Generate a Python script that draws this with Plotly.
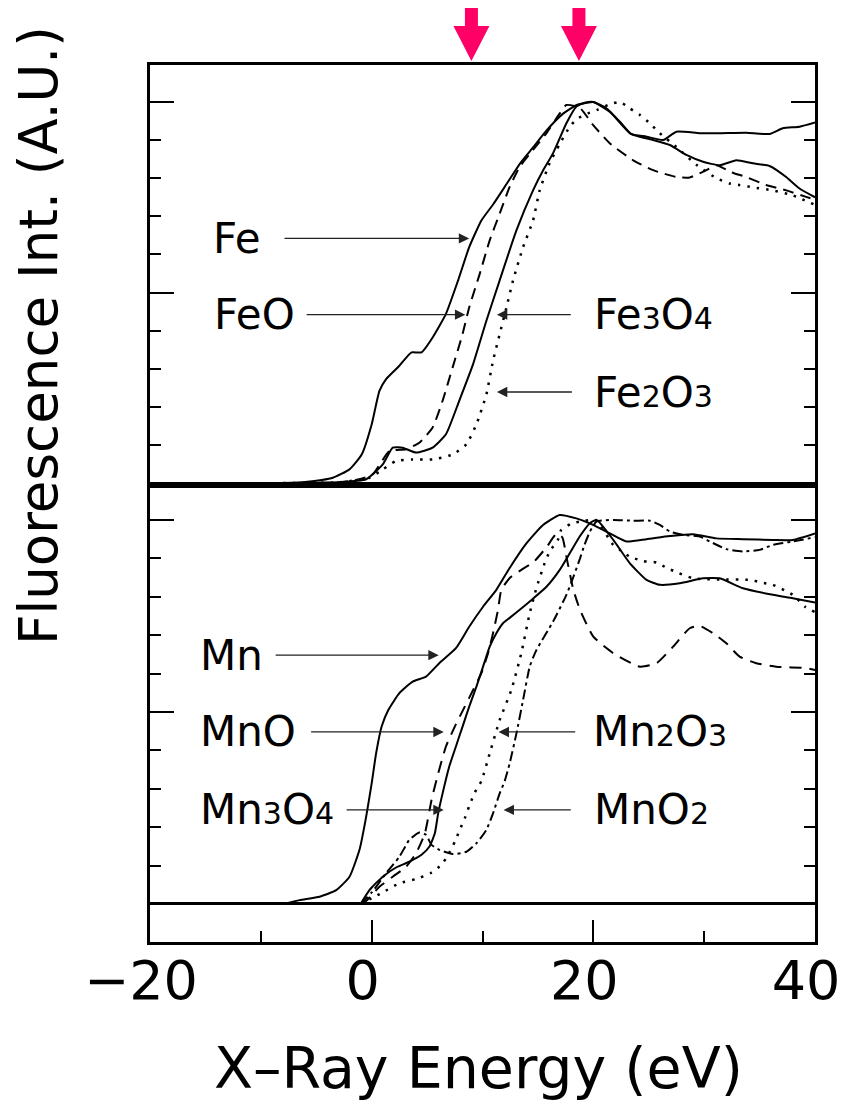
import plotly.graph_objects as go

# ---------------- data ----------------
# Top panel: Fe K-edge
fe_e = [-8, -6, -4.5, -3.5, -2, -0.9, 0, 0.7, 1.3, 2.5, 3.6, 4.5, 5.5, 6.7, 7.8, 8.8, 9.9, 11, 12.2, 13.4,
        14.6, 15.8, 17.3, 18.5, 19.4, 20.0, 21.2, 22.4, 23.4, 24.8, 26.3, 27.5, 29.6, 31.4, 33.8, 35.9, 37.1, 38.6, 40]
fe_v = [0, 0.003, 0.008, 0.014, 0.036, 0.075, 0.154, 0.242, 0.273, 0.308, 0.343, 0.343, 0.382, 0.444, 0.532,
        0.619, 0.689, 0.733, 0.786, 0.839, 0.882, 0.926, 0.97, 0.992, 0.998, 1.0, 0.983, 0.948, 0.916, 0.909,
        0.9, 0.922, 0.918, 0.918, 0.919, 0.916, 0.931, 0.935, 0.946]

feo_e = [-8, -3, -1.1, 0.1, 1.6, 3.1, 4.3, 5.5, 6.4, 7.3, 8.2, 8.8, 9.75, 10.65, 11.55, 12.45, 13.36, 14.56,
         15.77, 16.97, 17.57, 18.77, 19.97, 21.5, 23.6, 25.4, 27.5, 28.7, 30.2, 31.1, 32.5, 33.8, 35.6, 37.4, 39.2, 40]
feo_v = [0, 0.002, 0.01, 0.023, 0.084, 0.089, 0.106, 0.146, 0.216, 0.303, 0.391, 0.461, 0.549, 0.637, 0.707,
         0.777, 0.83, 0.874, 0.918, 0.97, 0.992, 0.985, 0.94, 0.891, 0.847, 0.821, 0.803, 0.802, 0.821, 0.834,
         0.815, 0.803, 0.782, 0.768, 0.751, 0.744]

fe3o4_e = [-8, -3, -0.5, 1.0, 1.9, 2.8, 4.0, 5.5, 6.7, 7.9, 9.15, 10.35, 11.55, 13.06, 14.56, 15.46, 16.36,
           17.57, 18.47, 19.22, 20.0, 21.5, 23.4, 25.4, 26.9, 28.4, 29.9, 31.4, 32.9, 34.4, 35.9, 37.4, 38.6, 40]
fe3o4_v = [0, 0.002, 0.01, 0.049, 0.093, 0.093, 0.08, 0.093, 0.128, 0.216, 0.312, 0.426, 0.532, 0.663, 0.768,
           0.82, 0.865, 0.944, 0.988, 0.998, 1.0, 0.974, 0.916, 0.9, 0.887, 0.861, 0.843, 0.834, 0.847, 0.839,
           0.832, 0.803, 0.773, 0.75]

fe2o3_e = [-8, -3, -0.2, 1.0, 2.2, 3.7, 5.5, 7.3, 8.55, 9.45, 10.35, 10.95, 11.55, 12.16, 12.76, 13.66, 14.56,
           15.16, 16.06, 16.97, 17.87, 18.5, 19.5, 20.4, 21.4, 22.4, 23.3, 24.2, 25.1, 26.0, 27.65, 29.3, 31.1,
           32.3, 33.2, 34.4, 36.2, 38.0, 40]
fe2o3_v = [0, 0.002, 0.014, 0.036, 0.058, 0.062, 0.062, 0.075, 0.102, 0.154, 0.233, 0.321, 0.391, 0.461, 0.532,
           0.619, 0.689, 0.768, 0.84, 0.89, 0.935, 0.955, 0.97, 0.98, 0.993, 1.0, 0.983, 0.966, 0.944, 0.918,
           0.878, 0.835, 0.8, 0.786, 0.782, 0.776, 0.768, 0.755, 0.73]

# Bottom panel: Mn K-edge
mn_e = [-8, -6.5, -4.7, -3.2, -2.0, -1.1, -0.5, 0, 0.4, 0.9, 1.5, 2.5, 3.7, 4.9, 6.1, 7.6, 8.8, 10.05, 11.25,
        12.45, 13.96, 15.46, 16.97, 18.47, 19.67, 21.5, 23.0, 24.8, 26.9, 29.0, 31.1, 33.5, 36.2, 38.0, 40]
mn_v = [0, 0.01, 0.019, 0.036, 0.071, 0.141, 0.227, 0.314, 0.392, 0.462, 0.505, 0.549, 0.579, 0.592, 0.627,
        0.666, 0.722, 0.774, 0.818, 0.875, 0.939, 0.987, 1.013, 1.004, 0.991, 0.965, 0.944, 0.95, 0.958, 0.963,
        0.952, 0.95, 0.948, 0.948, 0.965]

mno_e = [-1.0, -0.5, 0.7, 1.9, 3.1, 4.0, 4.8, 5.4, 6.0, 6.7, 7.5, 8.4, 9.15, 9.9, 10.5, 10.95, 11.4, 11.7, 12.5,
         13.5, 14.6, 15.8, 16.7, 17.2, 17.6, 18.2, 18.8, 20.0, 21.8, 24.2, 25.7, 27.2, 28.7, 29.6, 30.8, 32.0,
         33.2, 34.7, 36.5, 39.2, 40]
mno_v = [0, 0.008, 0.045, 0.071, 0.097, 0.132, 0.184, 0.271, 0.34, 0.41, 0.462, 0.514, 0.557, 0.601, 0.653,
         0.705, 0.766, 0.818, 0.85, 0.87, 0.89, 0.93, 0.965, 0.955, 0.9, 0.818, 0.766, 0.696, 0.653, 0.618,
         0.627, 0.67, 0.718, 0.724, 0.705, 0.679, 0.644, 0.627, 0.618, 0.614, 0.609]

mn3o4_e = [-1.0, -0.2, 1.0, 2.2, 3.4, 4.5, 5.2, 5.7, 6.0, 6.4, 7.0, 7.6, 8.2, 8.8, 9.45, 10.05, 10.65, 11.25,
           11.85, 12.45, 13.36, 14.56, 15.77, 16.97, 17.87, 18.77, 19.67, 20.3, 21.8, 23.3, 24.8, 26.0, 27.8,
           29.9, 31.4, 33.5, 36.2, 38.0, 40]
mn3o4_v = [0, 0.036, 0.071, 0.095, 0.11, 0.128, 0.149, 0.184, 0.236, 0.288, 0.358, 0.41, 0.462, 0.514, 0.566,
           0.618, 0.67, 0.705, 0.731, 0.745, 0.766, 0.795, 0.826, 0.87, 0.913, 0.957, 0.991, 1.0, 0.948, 0.887,
           0.844, 0.831, 0.835, 0.848, 0.848, 0.822, 0.805, 0.796, 0.785]

mn2o3_e = [-1.0, 0.0, 1.0, 2.5, 4.0, 5.3, 6.3, 6.9, 7.5, 7.95, 8.4, 8.8, 9.3, 9.9, 10.65, 11.55, 12.6, 13.5,
           14.26, 14.86, 15.6, 16.06, 16.8, 17.1, 18.0, 19.2, 20.2, 21.8, 22.4, 23.3, 24.5, 25.7, 26.7, 27.6,
           29.0, 31.5, 34.1, 35.2, 36.2, 38.0, 39.1, 40]
mn2o3_v = [0, 0.015, 0.03, 0.054, 0.065, 0.08, 0.102, 0.128, 0.162, 0.193, 0.223, 0.255, 0.29, 0.32, 0.392,
           0.479, 0.557, 0.653, 0.757, 0.822, 0.887, 0.918, 0.948, 0.974, 0.99, 0.998, 1.0, 0.935, 0.922, 0.904,
           0.893, 0.889, 0.874, 0.863, 0.848, 0.845, 0.844, 0.837, 0.831, 0.805, 0.774, 0.76]

mno2_e = [-1.0, 0.0, 1.3, 2.5, 3.4, 4.3, 4.9, 5.4, 6.1, 7.3, 8.55, 9.45, 10.35, 10.95, 11.55, 12.0, 12.45,
          13.06, 13.66, 14.26, 14.86, 16.36, 17.57, 18.2, 18.8, 19.2, 19.7, 20.3, 21.8, 23.6, 25.1, 26.0, 26.9,
          28.1, 29.6, 30.5, 32.0, 33.5, 35.0, 36.2, 38.0, 40]
mno2_v = [0, 0.03, 0.08, 0.123, 0.167, 0.186, 0.18, 0.154, 0.141, 0.13, 0.136, 0.158, 0.193, 0.236, 0.288,
          0.32, 0.366, 0.444, 0.531, 0.618, 0.661, 0.735, 0.805, 0.852, 0.9, 0.935, 0.97, 0.996, 1.0, 0.998,
          0.998, 0.987, 0.97, 0.961, 0.957, 0.944, 0.924, 0.918, 0.922, 0.935, 0.944, 0.955]

# x ticks
x_tickvals = [-20, 0, 20, 40]
x_ticktext = ["\u221220", "0", "20", "40"]

# marked energies (pink arrows)
marker_energies = [9.0, 18.7]

# labels: (text, text_x, text_y, tail_x, tip_x, tip_y)
SUB = "<span style='font-size:30px'>{}</span>"
top_labels = [
    ("Fe", -14.5, 0.642, -8.0, 8.8, 0.642),
    ("FeO", -14.4, 0.442, -6.0, 8.45, 0.442),
    ("Fe" + SUB.format("3") + "O" + SUB.format("4"), 19.9, 0.442, 18.1, 11.3, 0.442),
    ("Fe" + SUB.format("2") + "O" + SUB.format("3"), 19.9, 0.239, 18.2, 11.3, 0.239),
]
bottom_labels = [
    ("Mn", -15.7, 0.648, -8.8, 6.05, 0.648),
    ("MnO", -15.7, 0.448, -5.6, 6.5, 0.448),
    ("Mn" + SUB.format("3") + "O" + SUB.format("4"), -15.7, 0.245, -2.4, 6.5, 0.245),
    ("Mn" + SUB.format("2") + "O" + SUB.format("3"), 19.8, 0.448, 18.5, 11.45, 0.448),
    ("MnO" + SUB.format("2"), 19.9, 0.245, 18.1, 11.9, 0.245),
]

# ---------------- figure ----------------
FONT = "DejaVu Sans"
fig = go.Figure()

def add_curve(e, v, dash, xa, ya, width=2.0):
    fig.add_trace(go.Scatter(x=e, y=v, mode="lines", xaxis=xa, yaxis=ya,
                             line=dict(color="black", width=width, dash=dash, shape="spline", smoothing=0.5),
                             showlegend=False, hoverinfo="skip"))

add_curve(fe_e, fe_v, "solid", "x", "y")
add_curve(feo_e, feo_v, "11px,7px", "x", "y")
add_curve(fe3o4_e, fe3o4_v, "solid", "x", "y")
add_curve(fe2o3_e, fe2o3_v, "2.5px,7px", "x", "y", width=2.5)

add_curve(mn_e, mn_v, "solid", "x2", "y2")
add_curve(mno_e, mno_v, "12px,8px", "x2", "y2")
add_curve(mn3o4_e, mn3o4_v, "solid", "x2", "y2")
add_curve(mn2o3_e, mn2o3_v, "2.5px,7px", "x2", "y2", width=2.5)
add_curve(mno2_e, mno2_v, "10px,4px,3px,4px", "x2", "y2")

annotations = []
for labels, xr, yr in ((top_labels, "x", "y"), (bottom_labels, "x2", "y2")):
    for text, tx, ty, ax, px, py in labels:
        annotations.append(dict(text=text, x=tx, y=ty, xref=xr, yref=yr, xanchor="left", yanchor="middle",
                                showarrow=False, font=dict(family=FONT, size=42, color="black")))
        annotations.append(dict(text="", x=px, y=py, xref=xr, yref=yr, ax=ax, ay=py, axref=xr, ayref=yr,
                                showarrow=True, arrowhead=2, arrowsize=1.6, arrowwidth=1.3,
                                arrowcolor="#222222"))

# page geometry (the page body adds an 8px offset)
plot_l, plot_w, plot_t, plot_h = 150, 665, 65, 877

annotations.append(dict(text="Fluorescence Int. (A.U.)",
                        x=(38 - plot_l) / plot_w, y=(plot_t + plot_h - 336) / plot_h,
                        xref="paper", yref="paper", xanchor="center", yanchor="middle",
                        showarrow=False, textangle=-90, font=dict(family=FONT, size=53, color="black")))
annotations.append(dict(text="X\u2013Ray Energy (eV)",
                        x=(478 - plot_l) / plot_w, y=(plot_t + plot_h - 1068) / plot_h,
                        xref="paper", yref="paper", xanchor="center", yanchor="middle",
                        showarrow=False, font=dict(family=FONT, size=57, color="black")))

shapes = []
for e in marker_energies:
    shapes.append(dict(type="path", xref="x", yref="paper", xsizemode="pixel", ysizemode="pixel",
                       xanchor=e, yanchor=1,
                       path="M-6.5,80 L6.5,80 L6.5,39 L18,39 L0,4 L-18,39 L-6.5,39 Z",
                       fillcolor="#FF0066", line=dict(width=0), layer="above"))

split = (942 - 485) / 877
axis_common = dict(showline=True, linecolor="black", linewidth=2.5, showgrid=False, color="black",
                   automargin=False)
ytick_common = dict(ticks="inside", tick0=0, dtick=0.5, ticklen=24, tickwidth=2, tickcolor="black",
                    mirror="ticks", showticklabels=False,
                    minor=dict(ticks="inside", dtick=0.1, ticklen=11, tickwidth=2, tickcolor="black"),
                    zeroline=True, zerolinecolor="black")

fig.update_layout(
    width=839, height=1092,
    margin=dict(l=142, r=32, t=57, b=158, autoexpand=False),
    paper_bgcolor="white", plot_bgcolor="white",
    font=dict(family=FONT, color="black"),
    xaxis=dict(domain=[0, 1], anchor="y", range=[-20, 40], mirror=True, ticks="", showticklabels=False,
               zeroline=False, **axis_common),
    yaxis=dict(domain=[split, 1], anchor="x", range=[-0.005, 1.097], zerolinewidth=1.5,
               **ytick_common, **axis_common),
    xaxis2=dict(domain=[0, 1], anchor="y2", range=[-20, 40], mirror=True, ticks="inside",
                tickvals=x_tickvals, ticktext=x_ticktext, ticklen=22, tickwidth=2, tickcolor="black",
                minor=dict(ticks="inside", dtick=10, tick0=0, ticklen=11, tickwidth=2, tickcolor="black"),
                tickfont=dict(family=FONT, size=54, color="black"), ticklabelstandoff=-11,
                ticklabelshift=-9, ticklabeloverflow="allow",
                zeroline=False, **axis_common),
    yaxis2=dict(domain=[0, split], anchor="x2", range=[-0.099, 1.091], zerolinewidth=2.5,
                **ytick_common, **axis_common),
    annotations=annotations,
    shapes=shapes,
)

fig.write_html("out.html")
